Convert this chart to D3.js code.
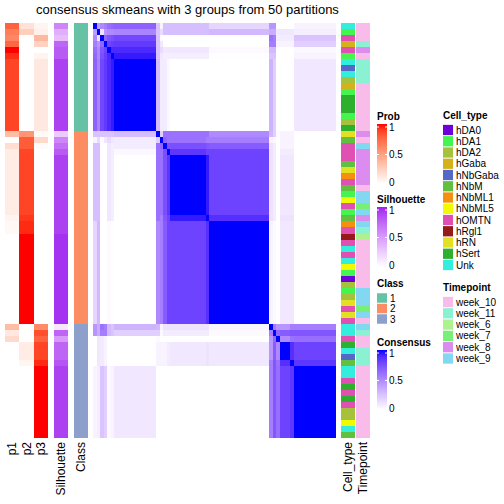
<!DOCTYPE html>
<html><head><meta charset="utf-8">
<script src="https://cdn.jsdelivr.net/npm/d3@7/dist/d3.min.js"></script>
<style>body{margin:0;background:#fff;} text{font-family:"Liberation Sans",Arial,sans-serif;fill:#000;}</style>
</head><body><svg id="c" width="504" height="504"></svg>
<script>
// ---------------- data ----------------
const title = "consensus skmeans with 3 groups from 50 partitions";
const classSizes = [18, 32, 19];
const classNames = ["1", "2", "3"];
const classColors = ["#66C2A5", "#FC8D62", "#8DA0CB"];

// consensus matrix in blocks of consecutive samples
const segSizes = [1,1,1,1,1,1,12, 1,1,1,1,10,1,17, 1,1,1,3,1,12];
const segWithin = [1,1,1,1,1,1,1, 1,1,1,1,1,1,1, 1,1,1,1,1,1];
const segLower = [
 [1],
 [.42,1],
 [.50,.12,1],
 [.55,.45,.65,1],
 [.62,.50,.72,.80,1],
 [.65,.50,.75,.82,.90,1],
 [.67,.52,.78,.84,.90,.95,1],
 [.25,.25,.25,.25,.25,.25,.28,1],
 [.05,.15,.02,.10,.15,.10,.08,.20,1],
 [.27,.27,0,0,.10,.07,.08,.60,.65,1],
 [.27,.27,0,0,.10,.07,.03,.60,.60,.75,1],
 [.27,.27,0,0,.10,.07,0,.60,.60,.75,.85,1],
 [.27,.27,0,0,.10,.07,0,.60,.55,.72,.80,.95,1],
 [.17,.30,0,0,.02,.01,0,.50,.55,.70,.80,.80,.88,1],
 [.45,.35,.60,.55,.30,.25,.32,.30,.05,.12,.12,.12,.12,.04,1],
 [.45,.35,.55,.55,.30,.25,.20,.20,.03,.08,.08,.08,.08,.02,.55,1],
 [0,.10,.08,.05,0,0,0,.02,0,0,0,0,0,0,.45,.65,1],
 [0,.10,.08,.05,0,0,0,.05,.05,.05,.08,.10,.12,.10,.45,.70,.50,1],
 [0,.10,.08,.05,0,0,0,.05,.05,.05,.08,.10,.12,.10,.55,.72,.60,.88,1],
 [.05,.07,.25,.20,.03,.05,.10,0,0,0,0,0,0,0,.55,.72,.62,.80,.85,1]
];

const p1 = [.78,.66,.62,.76,1,.94, .88,.88,.88,.88,.88,.88,.88,.88,.88,.88,.88,.88,
 .35,0,.18,.1, .1,.1,.1,.1,.1,.1,.1,.1,.1,.1, .06,.04,.04, 0,0,0,0,0,0,0,0,0,0,0,0,0,0,0,
 .35,.12,.2, 0,0,0,0,0,0,0,0,0,0,0,0,0,0,0,0];
const p2 = [.16,.26,0,0,0,0, 0,0,0,0,0,0,0,0,0,0,0,0,
 .55,.8,.8,.88, .88,.88,.88,.88,.88,.88,.88,.88,.88,.88, .92,.95,.95, 1,1,1,1,1,1,1,1,1,1,1,1,1,1,1,
 0,0,0, .1,.1,.1,.05, 0,0,0,0,0,0,0,0,0,0,0,0];
const p3 = [.06,.08,.38,.24,0,.06, .12,.12,.12,.12,.12,.12,.12,.12,.12,.12,.12,.12,
 .03,.2,.02,0, 0,0,0,0,0,0,0,0,0,0, 0,0,0, 0,0,0,0,0,0,0,0,0,0,0,0,0,0,0,
 .6,.85,.78, .88,.88,.88,.95, 1,1,1,1,1,1,1,1,1,1,1,1];
const silhouette = [.6,.4,.33,.75,.8,.8, .9,.9,.9,.9,.9,.9,.9,.9,.9,.9,.9,.9,
 .25,.6,.7,.8, .9,.9,.9,.9,.9,.9,.9,.9,.9,.9,.9,.9,.9, .95,.95,.95,.95,.95,.95,.95,.95,.95,.95,.95,.95,.95,.95,.95,
 .12,.75,.5, .75,.75,.75,.82, .9,.9,.9,.9,.9,.9,.9,.9,.9,.9,.9,.9];

const cellTypeLevels = ["hDA0","hDA1","hDA2","hGaba","hNbGaba","hNbM","hNbML1","hNbML5","hOMTN","hRgl1","hRN","hSert","Unk"];
const cellTypeColors = ["#6E00D8","#44F550","#A6C23C","#D4B21C","#5468C8","#62C040","#F5900E","#F2FA00","#E050B2","#961A1A","#E2E020","#2DB02D","#33EEDD"];
const cellType = ["Unk","hDA1","hOMTN","hGaba","hOMTN","hDA1","Unk","hNbGaba","Unk","hDA2","hGaba","hDA1","hSert","hSert","hSert","hDA1","hDA2","hSert",
 "hRN","hNbM","hOMTN","hOMTN","hOMTN","hNbM","hRN","hNbML1","hOMTN","hNbM","hDA1","hNbML5","hOMTN","hDA1","hNbM","hNbML1","hOMTN","hRgl1","hOMTN","Unk","hOMTN","Unk","hNbML5","hDA1","hDA0","hDA2","hDA1","hDA2","hRN","hOMTN","hRN","hOMTN",
 "Unk","Unk","hOMTN","hSert","Unk","hNbGaba","hNbM","Unk","Unk","hOMTN","hSert","hOMTN","hSert","hOMTN","hDA2","hDA2","hNbML5","Unk","hNbM"];

const timeLevels = ["week_10","week_11","week_6","week_7","week_8","week_9"];
const timeColors = ["#F9BBEA","#8AF2D2","#ADF28E","#78F078","#DC8CEE","#82D8F0"];
const timepoint = ["week_10","week_10","week_10","week_11","week_8","week_10","week_11","week_11","week_11","week_11","week_10","week_10","week_10","week_10","week_10","week_10","week_10","week_10",
 "week_8","week_10","week_9","week_8","week_8","week_8","week_8","week_8","week_8","week_10","week_9","week_9","week_7","week_9","week_8","week_9","week_11","week_6","week_10","week_10","week_10","week_10","week_10","week_10","week_10","week_10","week_9","week_9","week_9","week_7","week_9","week_10",
 "week_9","week_11","week_10","week_10","week_11","week_11","week_11","week_10","week_10","week_10","week_10","week_10","week_10","week_10","week_10","week_10","week_10","week_10","week_10"];

// ---------------- derived ----------------
const N = d3.sum(segSizes);
const segOf = [];
segSizes.forEach((s, k) => { for (let i = 0; i < s; i++) segOf.push(k); });
const classOf = [];
classSizes.forEach((s, k) => { for (let i = 0; i < s; i++) classOf.push(k); });
function cons(i, j) {
  if (i === j) return 1;
  const a = segOf[i], b = segOf[j];
  if (a === b) return segWithin[a];
  return a > b ? segLower[a][b] : segLower[b][a];
}

const svg = d3.select("#c");

const consColor = d3.scaleLinear().domain([0,1]).range(["#ffffff","#0000ff"]).interpolate(d3.interpolateLab);
const probColor = d3.scaleLinear().domain([0,1]).range(["#ffffff","#ff0000"]).interpolate(d3.interpolateLab);
const silColor = d3.scaleLinear().domain([0,1]).range(["#ffffff","#A020F0"]).interpolate(d3.interpolateLab);
const classColor = d3.scaleOrdinal().domain(d3.range(3)).range(classColors);
const ctColor = d3.scaleOrdinal().domain(cellTypeLevels).range(cellTypeColors);
const tpColor = d3.scaleOrdinal().domain(timeLevels).range(timeColors);

const y = d3.scaleBand().domain(d3.range(N)).range([23, 438]);
const x = d3.scaleBand().domain(d3.range(N)).range([93, 336]);

// title
svg.append("text").attr("x", 187.5).attr("y", 14).attr("text-anchor", "middle")
  .style("font-size", "13px").text(title);

// heatmap
const cells = [];
for (let i = 0; i < N; i++) for (let j = 0; j < N; j++) cells.push({i, j, v: cons(i, j)});
svg.append("g").attr("shape-rendering", "crispEdges").selectAll("rect").data(cells).join("rect")
  .attr("x", d => x(d.j)).attr("y", d => y(d.i))
  .attr("width", x.bandwidth() + 0.02).attr("height", y.bandwidth() + 0.02)
  .attr("fill", d => consColor(d.v));

// left annotation columns
const probCols = [p1, p2, p3];
const pX = d3.scaleBand().domain([0,1,2]).range([5, 48]);
const annot = svg.append("g").attr("shape-rendering", "crispEdges");
probCols.forEach((arr, k) => {
  annot.append("g").selectAll("rect").data(arr).join("rect")
    .attr("x", pX(k)).attr("width", pX.bandwidth())
    .attr("y", (d, i) => y(i)).attr("height", y.bandwidth() + 0.02)
    .attr("fill", d => probColor(d));
});
function column(arr, x0, x1, colorFn) {
  annot.append("g").selectAll("rect").data(arr).join("rect")
    .attr("x", x0).attr("width", x1 - x0)
    .attr("y", (d, i) => y(i)).attr("height", y.bandwidth() + 0.02)
    .attr("fill", colorFn);
}
column(silhouette, 54, 68, d => silColor(d));
column(classOf, 74, 88, d => classColor(d));
column(cellType, 341, 355, d => ctColor(d));
column(timepoint, 356, 370, d => tpColor(d));

// bottom labels
const labels = [["p1", pX(0) + pX.bandwidth()/2], ["p2", pX(1) + pX.bandwidth()/2], ["p3", pX(2) + pX.bandwidth()/2],
  ["Silhouette", 61], ["Class", 81], ["Cell_type", 348], ["Timepoint", 363]];
svg.append("g").selectAll("text").data(labels).join("text")
  .attr("transform", d => `translate(${d[1]},442) rotate(-90)`)
  .attr("text-anchor", "end").attr("dominant-baseline", "central")
  .style("font-size", "12px").text(d => d[0]);

// legends
const defs = svg.append("defs");
function contLegend(id, name, top, colorFn) {
  const g = svg.append("g");
  g.append("text").attr("x", 377).attr("y", top).attr("dominant-baseline", "central")
    .style("font-size", "10px").style("font-weight", "bold").text(name);
  const ls = d3.scaleLinear().domain([0, 1]).range([top + 66, top + 11]);
  const grad = defs.append("linearGradient").attr("id", id).attr("x1", 0).attr("y1", 1).attr("x2", 0).attr("y2", 0);
  d3.range(0, 1.001, 0.1).forEach(t => grad.append("stop").attr("offset", t).attr("stop-color", colorFn(t)));
  g.append("rect").attr("x", 377).attr("y", top + 8).attr("width", 10).attr("height", 60).attr("fill", `url(#${id})`);
  [0, 0.5, 1].forEach(t => {
    g.append("line").attr("x1", 377).attr("x2", 379).attr("y1", ls(t)).attr("y2", ls(t)).attr("stroke", "#fff").attr("stroke-width", 1);
    g.append("line").attr("x1", 385).attr("x2", 387).attr("y1", ls(t)).attr("y2", ls(t)).attr("stroke", "#fff").attr("stroke-width", 1);
    g.append("text").attr("x", 389).attr("y", ls(t)).attr("dominant-baseline", "central")
      .style("font-size", "10px").text(t === 0.5 ? "0.5" : String(t));
  });
}
contLegend("gProb", "Prob", 116, probColor);
contLegend("gSil", "Silhouette", 199, silColor);
contLegend("gCons", "Consensus", 342, consColor);

function discLegend(name, levels, colorFn, xx, top, step) {
  const g = svg.append("g");
  g.append("text").attr("x", xx).attr("y", top).attr("dominant-baseline", "central")
    .style("font-size", "10px").style("font-weight", "bold").text(name);
  levels.forEach((lv, k) => {
    const cy = top + 15 + step * k;
    g.append("rect").attr("x", xx).attr("y", cy - step/2 + 0.5).attr("width", 10).attr("height", step - 1).attr("fill", colorFn(lv));
    g.append("text").attr("x", xx + 13).attr("y", cy).attr("dominant-baseline", "central")
      .style("font-size", "10px").text(lv);
  });
}
discLegend("Class", classNames, (lv) => classColors[classNames.indexOf(lv)], 377, 283, 10.5);
discLegend("Cell_type", cellTypeLevels, ctColor, 443, 115, 11.25);
discLegend("Timepoint", timeLevels, tpColor, 443, 287, 11.3);
</script></body></html>
